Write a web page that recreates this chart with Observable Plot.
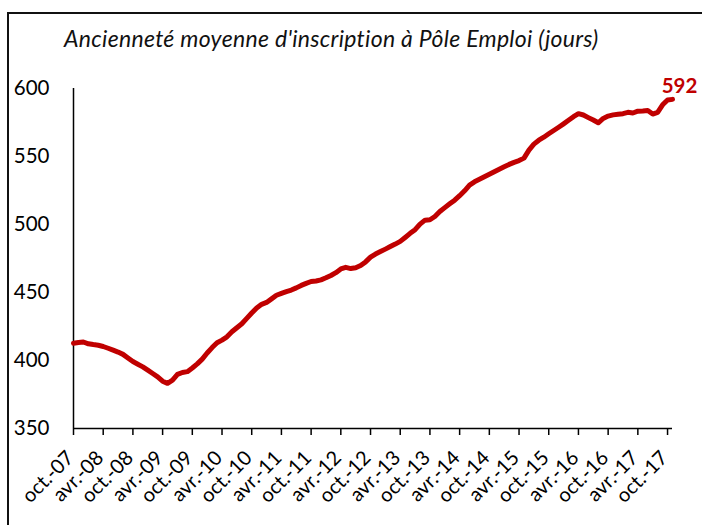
<!DOCTYPE html>
<html><head><meta charset="utf-8">
<script src="https://cdn.jsdelivr.net/npm/d3@7"></script>
<script src="https://cdn.jsdelivr.net/npm/@observablehq/plot@0.6"></script>
<style>
html,body{margin:0;padding:0;background:#fff;overflow:hidden;width:702px;height:525px;}
#wrap{position:relative;width:702px;height:525px;overflow:hidden;}
#frame{position:absolute;left:7px;top:12px;width:800px;height:600px;border:2px solid #111;box-sizing:border-box;}
#title{position:absolute;left:64px;top:25px;font-family:Lato;font-style:italic;font-size:23px;letter-spacing:0.3px;line-height:26px;color:#111;white-space:nowrap;}
#chart{position:absolute;left:0;top:66px;}
</style></head><body>
<div id="wrap"><div id="frame"></div><div id="title">Ancienneté moyenne d'inscription à Pôle Emploi (jours)</div><div id="chart"></div></div>
<script>
// Monthly values, Oct 2007 -> Nov 2017 (month index 0..121)
const values = [
  412.7, 413.2, 413.6, 412.3, 411.7, 411.2, 410.3, 409.0, 407.6, 406.2, 404.5, 401.8,
  399.2, 397.3, 395.3, 392.9, 390.4, 388.0, 384.8, 383.2, 385.5, 389.8, 391.2, 391.8,
  394.5, 397.5, 401.0, 405.5, 409.5, 413.1, 415.0, 417.4, 421.1, 424.1, 427.0, 431.0,
  434.9, 438.6, 441.3, 442.7, 445.3, 448.0, 449.4, 450.7, 451.8, 453.4, 455.2, 456.7,
  458.1, 458.5, 459.3, 460.8, 462.5, 464.6, 467.3, 468.5, 467.6, 468.2, 469.8, 472.5,
  476.0, 478.3, 480.1, 481.9, 483.8, 485.6, 487.6, 490.5, 493.5, 496.2, 500.3, 503.2,
  503.5, 505.9, 509.5, 512.4, 515.2, 517.9, 521.2, 524.8, 529.0, 531.4, 533.2, 535.1,
  536.9, 538.8, 540.6, 542.4, 544.2, 545.7, 547.0, 548.8, 554.7, 559.1, 562.0, 564.2,
  566.7, 569.1, 571.5, 574.0, 576.6, 579.3, 581.5, 580.5, 578.6, 576.8, 574.8, 578.0,
  579.7, 580.6, 581.1, 581.5, 582.5, 582.0, 583.3, 583.5, 583.8, 581.2, 582.5, 588.0,
  591.6, 592.0
];
const xTickLabels = ["oct.-07","avr.-08","oct.-08","avr.-09","oct.-09","avr.-10","oct.-10",
  "avr.-11","oct.-11","avr.-12","oct.-12","avr.-13","oct.-13","avr.-14","oct.-14","avr.-15",
  "oct.-15","avr.-16","oct.-16","avr.-17","oct.-17"];
const yTicks = [350, 400, 450, 500, 550, 600];
const lastValueLabel = ["592"];

const data = values.map((v, i) => ({month: i, value: v}));
const xTicks = xTickLabels.map((_, k) => k * 6);
const last = data[data.length - 1];
const red = "#C00000";

const chart = Plot.plot({
  width: 702,
  height: 459,
  marginLeft: 73,
  marginRight: 30,
  marginTop: 22,
  marginBottom: 97,
  style: {fontFamily: "Lato", color: "#000", background: "transparent", overflow: "visible"},
  x: {domain: [0, values.length - 1]},
  y: {domain: [350, 600]},
  marks: [
    Plot.axisY({ticks: yTicks, tickSize: 0, tickPadding: 24, fontSize: 20.5, label: null}),
    // tick marks only
    Plot.axisX({ticks: xTicks, tickFormat: () => "", tickSize: 7, label: null, strokeWidth: 1.5}),
    // rotated tick labels
    Plot.axisX({ticks: xTicks, tickFormat: d => xTickLabels[d / 6], tickRotate: -45, tickSize: 0,
      tickPadding: 26, fontSize: 20, dx: -3, label: null}),
    Plot.ruleX([0], {stroke: "#000", strokeWidth: 1.5}),
    Plot.ruleY([350], {stroke: "#000", strokeWidth: 1.5}),
    Plot.line(data, {x: "month", y: "value", stroke: red, strokeWidth: 5, strokeLinejoin: "round", strokeLinecap: "round"}),
    Plot.text([last], {x: "month", y: "value", text: () => lastValueLabel[0], fill: red, fontWeight: "bold",
      fontSize: 20.5, dx: 7, dy: -13})
  ]
});
document.getElementById("chart").appendChild(chart);
</script>
</body></html>
